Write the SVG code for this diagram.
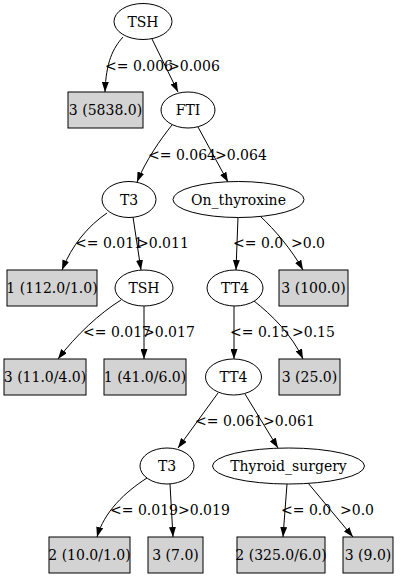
<svg xmlns="http://www.w3.org/2000/svg" width="401" height="577" viewBox="0 0 401 577">
<style>
text{font-family:"DejaVu Serif","Liberation Serif",serif;font-size:14px;fill:#000}
.n text{text-anchor:middle}
.n ellipse{fill:#fff;stroke:#000;stroke-width:1}
.n rect{fill:#d3d3d3;stroke:#000;stroke-width:1}
.e path{fill:none;stroke:#000;stroke-width:1;marker-end:url(#ah)}
</style>
<defs>
<marker id="ah" viewBox="0 0 10 7" refX="10" refY="3.5" markerWidth="10" markerHeight="7" markerUnits="userSpaceOnUse" orient="auto">
<path d="M0,0 L10,3.5 L0,7 z" fill="#000"/>
</marker>
</defs>
<rect width="401" height="577" fill="#fff"/>
<g id="edges" class="e">
<path d="M123,37 C113,48 106,62 105,92"/>
<path d="M152,39 L178,92"/>
<path d="M172,125 C160,140 146,160 137,182"/>
<path d="M198,127 L228,182"/>
<path d="M107,213 C88,226 72,245 62,270"/>
<path d="M133,217 L141,270"/>
<path d="M238,217 L236,270"/>
<path d="M260,216 C275,230 292,250 303,270"/>
<path d="M121,300 C100,313 76,335 58,359"/>
<path d="M144,306 L144,359"/>
<path d="M234,306 L234,359"/>
<path d="M254,301 C272,315 292,335 303,359"/>
<path d="M218,393 L178,448"/>
<path d="M245,394 L278,448"/>
<path d="M147,478 C125,492 104,512 97,537"/>
<path d="M170,484 L173,537"/>
<path d="M287,484 L283,537"/>
<path d="M308,483 L353,537"/>
</g>
<g id="edge-labels">
<text x="105" y="71">&lt;= 0.006</text>
<text x="168" y="71">&gt;0.006</text>
<text x="148" y="160">&lt;= 0.064</text>
<text x="215" y="160">&gt;0.064</text>
<text x="75" y="248">&lt;= 0.011</text>
<text x="137" y="248">&gt;0.011</text>
<text x="233" y="248">&lt;= 0.0</text>
<text x="291" y="248">&gt;0.0</text>
<text x="83" y="337">&lt;= 0.017</text>
<text x="143" y="337">&gt;0.017</text>
<text x="230" y="337">&lt;= 0.15</text>
<text x="292" y="337">&gt;0.15</text>
<text x="195" y="426">&lt;= 0.061</text>
<text x="263" y="426">&gt;0.061</text>
<text x="110" y="515">&lt;= 0.019</text>
<text x="178" y="515">&gt;0.019</text>
<text x="281" y="515">&lt;= 0.0</text>
<text x="340" y="515">&gt;0.0</text>
</g>
<g id="n0" class="n"><ellipse cx="143" cy="21.5" rx="29" ry="18"/><text x="143" y="26.5">TSH</text></g>
<g id="n1" class="n"><rect x="68" y="92" width="75" height="36"/><text x="105.5" y="115">3 (5838.0)</text></g>
<g id="n2" class="n"><ellipse cx="188" cy="110" rx="27" ry="18"/><text x="188" y="115">FTI</text></g>
<g id="n3" class="n"><ellipse cx="129" cy="199.5" rx="27" ry="18"/><text x="129" y="204.5">T3</text></g>
<g id="n4" class="n"><ellipse cx="238.5" cy="199.5" rx="65.5" ry="18"/><text x="238.5" y="204.5">On_thyroxine</text></g>
<g id="n5" class="n"><rect x="7" y="270" width="90" height="36"/><text x="52" y="293">1 (112.0/1.0)</text></g>
<g id="n6" class="n"><ellipse cx="144" cy="288" rx="29" ry="18"/><text x="144" y="293">TSH</text></g>
<g id="n7" class="n"><ellipse cx="235" cy="288" rx="28" ry="18"/><text x="235" y="293">TT4</text></g>
<g id="n8" class="n"><rect x="279" y="270" width="69" height="36"/><text x="313.5" y="293">3 (100.0)</text></g>
<g id="n9" class="n"><rect x="4" y="359" width="82" height="36"/><text x="45" y="382">3 (11.0/4.0)</text></g>
<g id="n10" class="n"><rect x="104" y="359" width="82" height="36"/><text x="145" y="382">1 (41.0/6.0)</text></g>
<g id="n11" class="n"><ellipse cx="233.5" cy="377" rx="28" ry="18"/><text x="233.5" y="382">TT4</text></g>
<g id="n12" class="n"><rect x="279" y="359" width="61" height="36"/><text x="309.5" y="382">3 (25.0)</text></g>
<g id="n13" class="n"><ellipse cx="167" cy="466" rx="27" ry="18"/><text x="167" y="471">T3</text></g>
<g id="n14" class="n"><ellipse cx="288.5" cy="466" rx="76" ry="18"/><text x="288.5" y="471">Thyroid_surgery</text></g>
<g id="n15" class="n"><rect x="49" y="537" width="81" height="36"/><text x="89.5" y="560">2 (10.0/1.0)</text></g>
<g id="n16" class="n"><rect x="148" y="537" width="55" height="36"/><text x="175.5" y="560">3 (7.0)</text></g>
<g id="n17" class="n"><rect x="237" y="537" width="88" height="36"/><text x="281" y="560">2 (325.0/6.0)</text></g>
<g id="n18" class="n"><rect x="343" y="537" width="50" height="36"/><text x="368" y="560">3 (9.0)</text></g>
</svg>
